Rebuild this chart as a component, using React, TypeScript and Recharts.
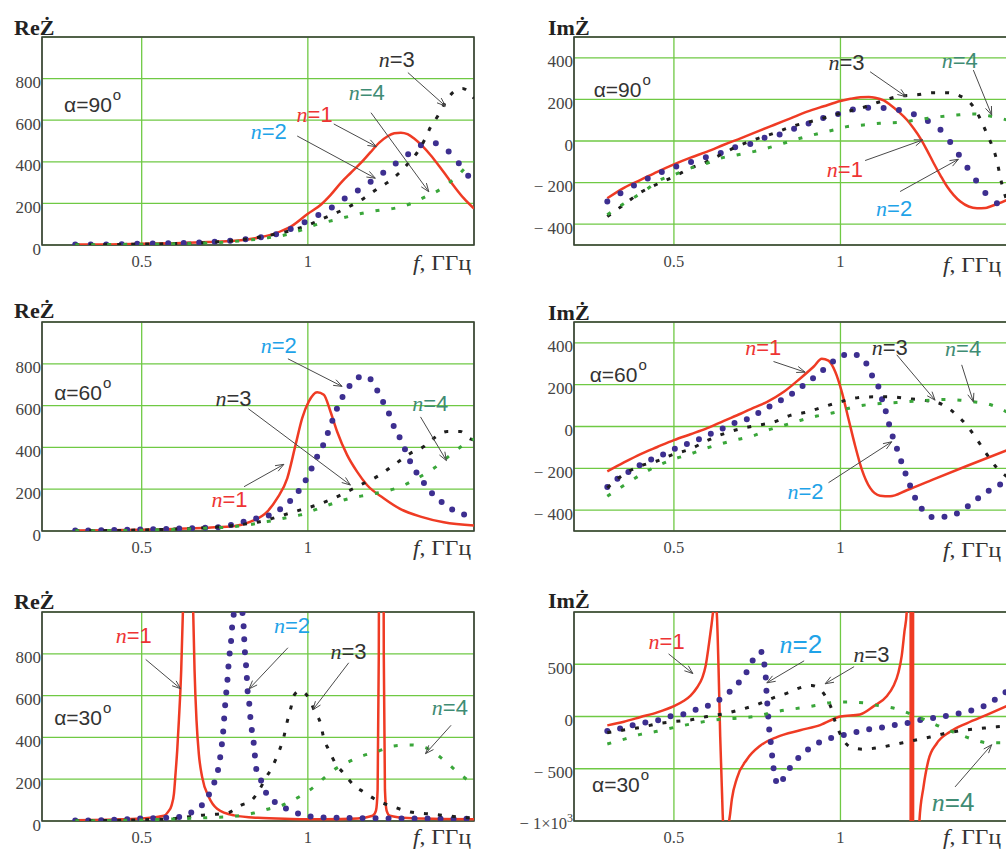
import React from 'react';
import {
  LineChart,
  Line,
  XAxis,
  YAxis,
  CartesianGrid,
  ReferenceLine,
  ReferenceDot,
  ReferenceArea,
} from 'recharts';

const SERIF = '"Liberation Serif", "Times New Roman", serif';
const SANS = '"Liberation Sans", Arial, sans-serif';

// ---------- axes ----------
const F_DOMAIN: [number, number] = [0.2, 1.5];
const F_TICKS = [0.5, 1];
const RE_DOMAIN: [number, number] = [0, 1000];
const RE_TICKS = [0, 200, 400, 600, 800];
const IM_DOMAIN: [number, number] = [-500, 500];
const IM_TICKS = [-400, -200, 0, 200, 400];
const IM30_DOMAIN: [number, number] = [-1000, 1000];
const IM30_TICKS = [-1000, -500, 0, 500];

type Pt = [number, number];

// ---------- alpha = 90 deg, Re ----------
const re90_n1: Pt[] = [[0.3,2],[0.4,3],[0.5,6],[0.6,9],[0.7,14],[0.78,20],[0.85,35],[0.9,55],[0.95,90],[1.0,150],[1.04,195],[1.068,240],[1.1,300],[1.128,345],[1.158,392],[1.188,445],[1.215,492],[1.24,523],[1.26,537],[1.28,540],[1.3,533],[1.319,513],[1.345,475],[1.369,433],[1.395,380],[1.419,328],[1.445,272],[1.469,225],[1.5,175]];
const re90_n2: Pt[] = [[0.3,2],[0.4,3],[0.5,6],[0.6,9],[0.7,14],[0.78,22],[0.85,35],[0.9,50],[0.96,85],[1.01,127],[1.06,168],[1.108,220],[1.156,268],[1.204,321],[1.251,376],[1.299,433],[1.347,484],[1.37,492],[1.394,484],[1.441,420],[1.476,345],[1.5,300]];
const re90_n3: Pt[] = [[0.3,1],[0.4,2],[0.5,4],[0.6,7],[0.7,12],[0.8,25],[0.88,45],[0.95,70],[1.0,95],[1.05,130],[1.1,165],[1.133,192],[1.168,224],[1.204,264],[1.239,300],[1.274,345],[1.304,396],[1.331,449],[1.351,505],[1.369,566],[1.391,620],[1.411,678],[1.439,737],[1.465,752],[1.485,735],[1.5,705]];
const re90_n4: Pt[] = [[0.3,1],[0.4,2],[0.5,4],[0.6,6],[0.7,10],[0.8,20],[0.88,35],[0.93,48],[0.98,72],[1.03,100],[1.08,120],[1.13,140],[1.18,158],[1.22,168],[1.259,176],[1.307,197],[1.354,232],[1.399,268],[1.447,328],[1.491,393],[1.5,400]];

// ---------- alpha = 90 deg, Im ----------
const im90_n1: Pt[] = [[0.3,-275],[0.35,-225],[0.4,-187],[0.45,-148],[0.5,-112],[0.55,-80],[0.6,-51],[0.65,-18],[0.7,13],[0.75,45],[0.8,77],[0.85,109],[0.9,141],[0.95,167],[1.0,192],[1.03,203],[1.06,210],[1.085,211],[1.104,208],[1.13,195],[1.15,173],[1.175,140],[1.2,101],[1.22,60],[1.24,13],[1.26,-45],[1.28,-107],[1.3,-165],[1.32,-219],[1.34,-260],[1.36,-291],[1.385,-315],[1.41,-323],[1.435,-322],[1.45,-315],[1.475,-300],[1.5,-283]];
const im90_n2: Pt[] = [[0.3,-291],[0.348,-243],[0.397,-200],[0.444,-163],[0.492,-131],[0.539,-107],[0.586,-83],[0.634,-62],[0.681,-32],[0.729,-14],[0.776,18],[0.824,34],[0.872,66],[0.919,93],[0.967,120],[1.014,138],[1.061,160],[1.107,160],[1.157,154],[1.201,139],[1.251,106],[1.299,56],[1.336,-19],[1.369,-99],[1.399,-171],[1.431,-243],[1.474,-304],[1.5,-320]];
const im90_n3: Pt[] = [[0.3,-363],[0.349,-307],[0.399,-248],[0.449,-208],[0.5,-171],[0.549,-131],[0.599,-99],[0.639,-67],[0.689,-27],[0.739,5],[0.799,37],[0.859,72],[0.929,101],[0.999,133],[1.059,157],[1.119,189],[1.179,216],[1.229,222],[1.279,232],[1.319,232],[1.359,216],[1.399,165],[1.439,37],[1.469,-91],[1.484,-203],[1.5,-290]];
const im90_n4: Pt[] = [[0.3,-355],[0.349,-302],[0.409,-243],[0.459,-187],[0.5,-163],[0.549,-131],[0.599,-107],[0.639,-83],[0.689,-67],[0.739,-51],[0.779,-35],[0.829,-11],[0.879,13],[0.929,34],[0.979,53],[1.019,69],[1.069,77],[1.119,85],[1.179,90],[1.249,106],[1.299,117],[1.349,125],[1.399,130],[1.449,120],[1.5,101]];

// ---------- alpha = 60 deg, Re ----------
const re60_n1: Pt[] = [[0.3,2],[0.4,3],[0.5,6],[0.6,10],[0.7,16],[0.78,24],[0.828,45],[0.878,93],[0.908,157],[0.938,252],[0.963,412],[0.983,540],[1.003,620],[1.028,664],[1.048,652],[1.068,572],[1.088,476],[1.118,364],[1.148,284],[1.178,220],[1.228,157],[1.279,105],[1.339,69],[1.409,42],[1.5,26]];
const re60_n2: Pt[] = [[0.3,2],[0.4,4],[0.5,7],[0.6,11],[0.68,15],[0.727,18],[0.768,29],[0.808,45],[0.847,61],[0.886,77],[0.923,112],[0.963,172],[0.988,228],[1.01,295],[1.028,356],[1.048,417],[1.063,481],[1.078,545],[1.093,607],[1.115,668],[1.14,723],[1.16,738],[1.178,739],[1.195,712],[1.208,675],[1.228,612],[1.248,548],[1.262,487],[1.284,425],[1.299,364],[1.319,300],[1.344,241],[1.374,180],[1.414,125],[1.451,88],[1.489,73],[1.5,70]];
const re60_n3: Pt[] = [[0.3,1],[0.4,2],[0.5,5],[0.6,9],[0.7,16],[0.78,27],[0.828,37],[0.878,53],[0.928,77],[0.978,101],[1.028,125],[1.078,157],[1.138,204],[1.178,236],[1.208,260],[1.259,316],[1.309,372],[1.349,404],[1.379,444],[1.419,476],[1.459,476],[1.489,441],[1.5,436]];
const re60_n4: Pt[] = [[0.3,1],[0.4,2],[0.5,4],[0.6,8],[0.7,14],[0.778,21],[0.878,45],[0.928,61],[0.978,77],[1.028,105],[1.078,133],[1.128,157],[1.178,172],[1.228,188],[1.279,212],[1.329,252],[1.379,300],[1.429,364],[1.469,412],[1.5,441]];

// ---------- alpha = 60 deg, Im ----------
const im60_n1: Pt[] = [[0.3,-215],[0.35,-172],[0.4,-132],[0.45,-98],[0.5,-65],[0.55,-37],[0.6,-8],[0.65,27],[0.7,61],[0.74,90],[0.78,118],[0.83,166],[0.88,231],[0.92,287],[0.944,324],[0.964,315],[0.984,263],[1.004,166],[1.024,37],[1.044,-92],[1.064,-205],[1.089,-294],[1.119,-331],[1.149,-334],[1.199,-305],[1.279,-253],[1.379,-189],[1.5,-114]];
const im60_n2: Pt[] = [[0.3,-290],[0.339,-240],[0.377,-205],[0.416,-168],[0.455,-144],[0.494,-113],[0.534,-87],[0.572,-63],[0.611,-35],[0.649,-8],[0.689,21],[0.727,40],[0.766,77],[0.804,111],[0.844,145],[0.882,189],[0.921,235],[0.961,287],[0.999,335],[1.037,348],[1.06,330],[1.076,306],[1.094,247],[1.116,182],[1.127,118],[1.139,56],[1.149,-8],[1.162,-73],[1.176,-135],[1.189,-198],[1.204,-261],[1.219,-324],[1.241,-387],[1.279,-434],[1.317,-431],[1.357,-410],[1.395,-366],[1.434,-318],[1.474,-282],[1.5,-262]];
const im60_n3: Pt[] = [[0.3,-294],[0.349,-229],[0.399,-189],[0.449,-165],[0.5,-132],[0.549,-108],[0.599,-68],[0.649,-35],[0.699,-11],[0.749,5],[0.799,21],[0.849,53],[0.899,69],[0.949,94],[0.999,118],[1.049,137],[1.099,142],[1.149,142],[1.199,134],[1.249,126],[1.299,110],[1.339,69],[1.379,5],[1.409,-60],[1.439,-132],[1.469,-197],[1.5,-240]];
const im60_n4: Pt[] = [[0.3,-334],[0.354,-277],[0.399,-232],[0.449,-189],[0.5,-156],[0.549,-132],[0.589,-108],[0.639,-84],[0.689,-63],[0.739,-44],[0.779,-19],[0.829,5],[0.879,29],[0.929,50],[0.979,66],[1.019,85],[1.069,102],[1.119,110],[1.169,115],[1.219,121],[1.269,126],[1.309,129],[1.359,126],[1.399,118],[1.449,105],[1.5,69]];

// ---------- alpha = 30 deg, Re ----------
const re30_n1: Pt[] = [[0.3,3],[0.4,6],[0.5,12],[0.537,18],[0.567,25],[0.58,45],[0.59,75],[0.597,130],[0.602,230],[0.607,340],[0.612,484],[0.619,725],[0.624,1000],[0.63,1450],[0.64,2000],[0.65,1450],[0.655,1000],[0.659,725],[0.665,480],[0.672,320],[0.682,210],[0.702,115],[0.727,59],[0.778,27],[0.85,15],[0.95,10],[1.05,8],[1.15,12],[1.195,25],[1.205,50],[1.21,150],[1.2135,800],[1.216,2500],[1.221,10000],[1.226,2500],[1.2285,800],[1.232,150],[1.237,50],[1.247,25],[1.3,14],[1.4,10],[1.5,8]];
const re30_n2: Pt[] = [[0.3,2],[0.4,5],[0.5,12],[0.577,16],[0.614,19],[0.652,43],[0.689,91],[0.71,152],[0.725,216],[0.734,279],[0.739,340],[0.744,404],[0.747,465],[0.75,529],[0.753,591],[0.757,654],[0.76,717],[0.763,779],[0.768,840],[0.771,909],[0.775,965],[0.782,1040],[0.79,1080],[0.798,1040],[0.806,952],[0.808,888],[0.81,824],[0.813,765],[0.816,700],[0.818,636],[0.823,575],[0.826,513],[0.83,452],[0.836,388],[0.84,327],[0.843,263],[0.858,199],[0.873,139],[0.903,88],[0.94,55],[0.983,30],[1.02,19],[1.1,15],[1.3,12],[1.5,11]];
const re30_n3: Pt[] = [[0.3,1],[0.4,3],[0.5,6],[0.6,12],[0.677,27],[0.757,38],[0.798,75],[0.831,99],[0.853,147],[0.873,204],[0.893,260],[0.913,332],[0.928,404],[0.938,476],[0.95,548],[0.958,600],[0.975,622],[0.983,620],[1.003,588],[1.023,516],[1.038,468],[1.048,396],[1.063,340],[1.083,276],[1.108,228],[1.138,172],[1.168,139],[1.208,99],[1.259,67],[1.309,43],[1.359,35],[1.409,27],[1.479,16],[1.5,14]];
const re30_n4: Pt[] = [[0.3,1],[0.4,2],[0.5,5],[0.6,10],[0.7,16],[0.778,22],[0.838,38],[0.878,56],[0.928,79],[0.973,115],[1.018,163],[1.053,212],[1.078,244],[1.118,279],[1.158,308],[1.208,332],[1.259,359],[1.309,364],[1.359,348],[1.409,292],[1.449,236],[1.5,172]];

// ---------- alpha = 30 deg, Im ----------
const im30_n1: Pt[] = [[0.3,-85],[0.35,-50],[0.4,-5],[0.45,40],[0.5,100],[0.53,150],[0.55,200],[0.57,280],[0.585,370],[0.595,480],[0.605,690],[0.613,880],[0.619,1030],[0.624,1070],[0.628,1020],[0.634,460],[0.639,-197],[0.644,-690],[0.648,-1030],[0.656,-1100],[0.664,-1030],[0.668,-950],[0.674,-790],[0.689,-592],[0.719,-411],[0.759,-280],[0.809,-197],[0.879,-132],[0.939,-82],[1.0,0],[1.059,20],[1.099,97],[1.139,194],[1.159,291],[1.174,421],[1.184,583],[1.192,810],[1.199,1004],[1.203,1300],[1.207,3000],[1.209,100000],[1.2125,-100000],[1.2165,100000],[1.2195,-100000],[1.225,-5000],[1.232,-1500],[1.237,-1000],[1.249,-680],[1.264,-420],[1.289,-258],[1.329,-146],[1.379,-65],[1.439,16],[1.5,100]];
const im30_n2: Pt[] = [[0.3,-138],[0.339,-115],[0.377,-82],[0.416,-56],[0.455,-33],[0.494,7],[0.534,26],[0.572,72],[0.611,115],[0.649,188],[0.684,290],[0.714,401],[0.736,533],[0.762,619],[0.772,487],[0.776,362],[0.778,230],[0.781,99],[0.787,-158],[0.792,-280],[0.796,-411],[0.801,-536],[0.814,-658],[0.837,-543],[0.864,-428],[0.904,-313],[0.942,-240],[0.982,-197],[1.019,-171],[1.059,-141],[1.099,-115],[1.137,-99],[1.176,-72],[1.214,-56],[1.254,-23],[1.292,-10],[1.331,16],[1.369,39],[1.409,72],[1.447,125],[1.487,214],[1.5,240]];
const im30_n3: Pt[] = [[0.3,-155],[0.349,-130],[0.4,-104],[0.45,-70],[0.5,-49],[0.55,-33],[0.6,0],[0.65,26],[0.7,66],[0.75,115],[0.8,181],[0.84,224],[0.88,276],[0.914,296],[0.94,257],[0.96,165],[0.974,66],[0.984,-49],[0.999,-165],[1.029,-290],[1.069,-313],[1.119,-296],[1.169,-263],[1.219,-230],[1.269,-197],[1.319,-158],[1.369,-132],[1.419,-115],[1.469,-99],[1.5,-92]];
const im30_n4: Pt[] = [[0.3,-263],[0.354,-214],[0.4,-171],[0.45,-141],[0.5,-105],[0.55,-72],[0.59,-49],[0.64,-26],[0.69,-16],[0.74,0],[0.78,26],[0.83,59],[0.88,82],[0.924,105],[0.97,132],[1.02,138],[1.07,132],[1.114,104],[1.159,81],[1.209,26],[1.259,-39],[1.299,-97],[1.349,-161],[1.399,-220],[1.444,-252],[1.5,-252]];

// ---------- styles ----------
const GRID = '#6fc944';
const FRAME = '#3c3c3c';
const TICK = '#444';
const LABEL_COLORS = ['#ee3434', '#1fa3e8', '#333333', '#3f8c74'];

function lineStyle(i: number, gap: number) {
  if (i === 0) return { stroke: '#ef3b24', strokeWidth: 2.5 };
  if (i === 1) return { stroke: '#3d2f90', strokeWidth: 6, strokeDasharray: `0 ${gap}`, strokeLinecap: 'round' as const };
  if (i === 2) return { stroke: '#1e1e1e', strokeWidth: 3, strokeDasharray: '4 10' };
  return { stroke: '#3aa63a', strokeWidth: 3, strokeDasharray: '4 12' };
}

const COLS: Record<string, { left: number; yw: number; pw: number }> = {
  L: { left: 0, yw: 42, pw: 432 },
  R: { left: 500, yw: 74, pw: 433 },
};

type Note = { n: number; t: Pt; a: [Pt, Pt]; size?: number };

const PANELS = [
  {
    id: 're90', col: 'L', top: 37, h: 208, domain: RE_DOMAIN, ticks: RE_TICKS, gap: 15.5,
    series: [re90_n1, re90_n2, re90_n3, re90_n4], alpha: { at: [0.2665, 641] as Pt, deg: '90' },
    notes: [
      { n: 3, t: [1.213, 858], a: [[1.301, 829], [1.414, 668]] },
      { n: 4, t: [1.123, 697], a: [[1.19, 636], [1.364, 256]] },
      { n: 1, t: [0.966, 593], a: [[1.078, 582], [1.206, 473]] },
      { n: 2, t: [0.828, 508], a: [[0.968, 524], [1.203, 321]] },
    ] as Note[],
  },
  {
    id: 'im90', col: 'R', top: 37, h: 208, domain: IM_DOMAIN, ticks: IM_TICKS, gap: 15.5,
    series: [im90_n1, im90_n2, im90_n3, im90_n4], alpha: { at: [0.259, 213] as Pt, deg: '90' },
    notes: [
      { n: 3, t: [0.964, 341], a: [[1.089, 333], [1.197, 213]] },
      { n: 4, t: [1.304, 349], a: [[1.399, 341], [1.454, 125]] },
      { n: 1, t: [0.959, -171], a: [[1.074, -94], [1.247, 5]] },
      { n: 2, t: [1.107, -360], a: [[1.179, -243], [1.354, -88]] },
    ] as Note[],
  },
  {
    id: 're60', col: 'L', top: 322, h: 209, domain: RE_DOMAIN, ticks: RE_TICKS, gap: 13,
    series: [re60_n1, re60_n2, re60_n3, re60_n4], alpha: { at: [0.2365, 628] as Pt, deg: '60' },
    notes: [
      { n: 2, t: [0.858, 851], a: [[0.94, 824], [1.103, 692]] },
      { n: 3, t: [0.722, 600], a: [[0.821, 585], [1.128, 220]] },
      { n: 4, t: [1.314, 575], a: [[1.339, 546], [1.417, 337]] },
      { n: 1, t: [0.71, 117], a: [[0.808, 212], [0.928, 319]] },
    ] as Note[],
  },
  {
    id: 'im60', col: 'R', top: 322, h: 209, domain: IM_DOMAIN, ticks: IM_TICKS, gap: 13,
    series: [im60_n1, im60_n2, im60_n3, im60_n4], alpha: { at: [0.247, 215] as Pt, deg: '60' },
    notes: [
      { n: 1, t: [0.714, 343], a: [[0.799, 311], [0.894, 260]] },
      { n: 3, t: [1.094, 343], a: [[1.169, 343], [1.284, 126]] },
      { n: 4, t: [1.314, 335], a: [[1.364, 295], [1.399, 118]] },
      { n: 2, t: [0.841, -347], a: [[0.964, -269], [1.154, -73]] },
    ] as Note[],
  },
  {
    id: 're30', col: 'L', top: 612, h: 209, domain: RE_DOMAIN, ticks: RE_TICKS, gap: 13,
    series: [re30_n1, re30_n2, re30_n3, re30_n4], alpha: { at: [0.2365, 460] as Pt, deg: '30' },
    notes: [
      { n: 1, t: [0.422, 853], a: [[0.512, 773], [0.617, 633]] },
      { n: 2, t: [0.898, 898], a: [[0.94, 829], [0.823, 632]] },
      { n: 3, t: [1.068, 776], a: [[1.123, 757], [1.015, 532]] },
      { n: 4, t: [1.373, 505], a: [[1.431, 458], [1.354, 322]] },
    ] as Note[],
  },
  {
    id: 'im30', col: 'R', top: 612, h: 209, domain: IM30_DOMAIN, ticks: IM30_TICKS, gap: 13,
    series: [im30_n1, im30_n2, im30_n3, im30_n4], alpha: { at: [0.254, -718] as Pt, deg: '30' },
    notes: [
      { n: 1, t: [0.424, 642], a: [[0.484, 599], [0.557, 411]] },
      { n: 2, t: [0.817, 609], a: [[0.891, 533], [0.779, 322]], size: 26 },
      { n: 3, t: [1.039, 526], a: [[1.041, 477], [0.954, 313]] },
      { n: 4, t: [1.274, -905], a: [[1.344, -674], [1.454, -270]], size: 26 },
    ] as Note[],
  },
];

const toRows = (pts: Pt[]) => pts.map(([f, v]) => ({ f, v }));

const XTick = (props: any) => {
  const { x, y, payload } = props;
  return (
    <text x={x} y={y + 22} textAnchor="middle" fontFamily={SERIF} fontSize={16.5} fill={TICK}>
      {String(payload.value)}
    </text>
  );
};

const YTick = (props: any) => {
  const { x, y, payload } = props;
  const v = payload.value as number;
  if (v === -1000) {
    return (
      <text x={x} y={y + 8} textAnchor="end" fontFamily={SERIF} fontSize={16.5} fill={TICK}>
        {'\u2212 1\u00d710'}
        <tspan dy={-7} fontSize={12}>3</tspan>
      </text>
    );
  }
  const s = v < 0 ? `\u2212 ${Math.abs(v)}` : String(v);
  return (
    <text x={x} y={y + 9.5} textAnchor="end" fontFamily={SERIF} fontSize={17} fill={TICK}>
      {s}
    </text>
  );
};

const Arrow = (p: any) => {
  const { x1, y1, x2, y2 } = p;
  if (![x1, y1, x2, y2].every((k: any) => Number.isFinite(k))) return <g />;
  const ang = Math.atan2(y2 - y1, x2 - x1);
  const L = 9;
  const w = 0.36;
  const hx1 = x2 - L * Math.cos(ang - w);
  const hy1 = y2 - L * Math.sin(ang - w);
  const hx2 = x2 - L * Math.cos(ang + w);
  const hy2 = y2 - L * Math.sin(ang + w);
  return (
    <g stroke="#4a4a4a" strokeWidth={1} fill="none">
      <line x1={x1} y1={y1} x2={x2} y2={y2} />
      <polyline points={`${hx1},${hy1} ${x2},${y2} ${hx2},${hy2}`} />
    </g>
  );
};

function Panel({ p }: { p: (typeof PANELS)[number] }) {
  const col = COLS[p.col];
  const MT = 10;
  const XH = 40;
  const MR = 12;
  const width = col.yw + col.pw + MR;
  const height = MT + p.h + XH;
  return (
    <div style={{ position: 'absolute', left: col.left, top: p.top - MT }}>
      <LineChart width={width} height={height} margin={{ top: MT, right: MR, bottom: 0, left: 0 }}>
        <CartesianGrid stroke={GRID} strokeWidth={1.3} />
        <XAxis
          type="number"
          dataKey="f"
          domain={F_DOMAIN}
          ticks={F_TICKS}
          allowDataOverflow
          interval={0}
          height={XH}
          axisLine={false}
          tickLine={false}
          tickSize={0}
          tickMargin={0}
          tick={<XTick />}
        />
        <YAxis
          type="number"
          dataKey="v"
          domain={p.domain}
          ticks={p.ticks}
          allowDataOverflow
          interval={0}
          width={col.yw}
          axisLine={false}
          tickLine={false}
          tickSize={0}
          tickMargin={1}
          tick={<YTick />}
        />
        {p.series.map((s, i) => (
          <Line
            key={i}
            data={toRows(s)}
            dataKey="v"
            type="monotone"
            dot={false}
            activeDot={false}
            isAnimationActive={false}
            {...lineStyle(i, p.gap)}
          />
        ))}
        <ReferenceArea
          x1={F_DOMAIN[0]}
          x2={F_DOMAIN[1]}
          y1={p.domain[0]}
          y2={p.domain[1]}
          fill="none"
          fillOpacity={0}
          stroke={FRAME}
          strokeWidth={1.6}
          ifOverflow="visible"
        />
        {p.notes.map((nt, i) => (
          <ReferenceLine
            key={`a${i}`}
            segment={[{ x: nt.a[0][0], y: nt.a[0][1] }, { x: nt.a[1][0], y: nt.a[1][1] }]}
            ifOverflow="visible"
            shape={(sp: any) => <Arrow {...sp} />}
          />
        ))}
        {p.notes.map((nt, i) => (
          <ReferenceDot
            key={`t${i}`}
            x={nt.t[0]}
            y={nt.t[1]}
            r={0}
            ifOverflow="visible"
            shape={(sp: any) => (
              <text x={sp.cx} y={sp.cy} fill={LABEL_COLORS[nt.n - 1]} fontFamily={SANS} fontSize={nt.size || 22}>
                <tspan fontFamily={SERIF} fontStyle="italic">n</tspan>
                {`=${nt.n}`}
              </text>
            )}
          />
        ))}
        <ReferenceDot
          x={p.alpha.at[0]}
          y={p.alpha.at[1]}
          r={0}
          ifOverflow="visible"
          shape={(sp: any) => (
            <text x={sp.cx} y={sp.cy} fill="#333" fontFamily={SANS} fontSize={21}>
              {`\u03b1=${p.alpha.deg}`}
              <tspan dx={1} dy={-12} fontSize={15}>o</tspan>
            </text>
          )}
        />
      </LineChart>
    </div>
  );
}

const TITLES = [
  { x: 14, y: 35, t: 'Re' },
  { x: 548, y: 35, t: 'Im' },
  { x: 14, y: 318, t: 'Re' },
  { x: 548, y: 320, t: 'Im' },
  { x: 14, y: 609, t: 'Re' },
  { x: 548, y: 608, t: 'Im' },
];
const UNITS = [
  { x: 413, y: 270 },
  { x: 943, y: 272 },
  { x: 413, y: 555 },
  { x: 943, y: 557 },
  { x: 413, y: 844 },
  { x: 943, y: 844 },
];

export default function App() {
  return (
    <div
      style={{
        position: 'absolute',
        left: 0,
        top: 0,
        width: 1006,
        height: 849,
        overflow: 'hidden',
        background: '#fff',
      }}
    >
      {PANELS.map((p) => (
        <Panel key={p.id} p={p} />
      ))}
      <svg width={1006} height={849} style={{ position: 'absolute', left: 0, top: 0, pointerEvents: 'none' }}>
        {TITLES.map((t, i) => (
          <text key={`ti${i}`} x={t.x} y={t.y} fontFamily={SERIF} fontWeight="bold" fontSize={22} fill="#222">
            {t.t + '\u017B'}
          </text>
        ))}
        {UNITS.map((u, i) => (
          <text key={`u${i}`} x={u.x} y={u.y} fontFamily={SERIF} fontSize={20} fill="#333" textLength={58} lengthAdjust="spacingAndGlyphs">
            <tspan fontStyle="italic">f</tspan>
            {', \u0413\u0413\u0446'}
          </text>
        ))}
      </svg>
    </div>
  );
}
